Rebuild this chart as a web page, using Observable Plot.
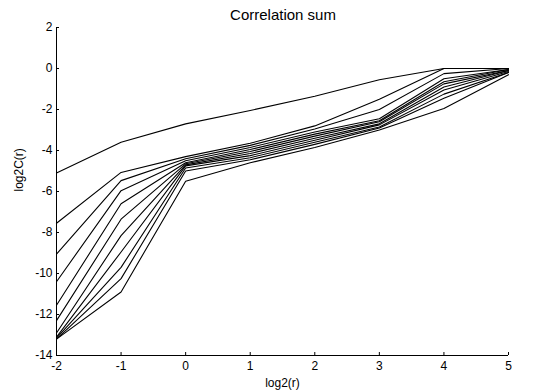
<!DOCTYPE html>
<html>
<head>
<meta charset="utf-8">
<script src="https://cdn.jsdelivr.net/npm/d3@7"></script>
<script src="https://cdn.jsdelivr.net/npm/@observablehq/plot@0.6"></script>
<style>
  body { margin: 0; background: #fff; font-family: "Liberation Sans", Arial, sans-serif; }
  #title { height: 20px; line-height: 30px; text-align: center; font-size: 15px; padding-left: 20px; color: #000; }
</style>
</head>
<body>
<div id="title">Correlation sum</div>
<div id="chart"></div>
<script>
const logR = [-2, -1, 0, 1, 2, 3, 4, 5];
const xTicks = [-2, -1, 0, 1, 2, 3, 4, 5];
const yTicks = [2, 0, -2, -4, -6, -8, -10, -12, -14];

const s1  = [-5.1,  -3.6,  -2.7,  -2.05, -1.35, -0.55,  0.0,  0.0];
const s2  = [-7.55, -5.07, -4.3,  -3.65, -2.8,  -1.5,   0.0,  0.0];
const s3  = [-9.05, -5.47, -4.4,  -3.75, -2.95, -2.0,  -0.25, 0.0];
const s4  = [-10.4, -5.96, -4.5,  -3.85, -3.1,  -2.45, -0.5, -0.05];
const s5  = [-11.55,-6.6,  -4.6,  -3.95, -3.2,  -2.55, -0.65,-0.05];
const s6  = [-12.3, -7.35, -4.65, -4.05, -3.3,  -2.6,  -0.75,-0.1];
const s7  = [-12.9, -8.15, -4.7,  -4.15, -3.4,  -2.7,  -0.9, -0.1];
const s8  = [-13.1, -8.95, -4.75, -4.25, -3.5,  -2.75, -1.05,-0.15];
const s9  = [-13.15,-9.7,  -4.85, -4.35, -3.6,  -2.85, -1.25,-0.2];
const s10 = [-13.2, -10.25,-5.0,  -4.45, -3.7,  -2.9,  -1.45,-0.2];
const s11 = [-13.2, -10.9, -5.5,  -4.6,  -3.85, -3.0,  -1.95,-0.3];

const series = [s1, s2, s3, s4, s5, s6, s7, s8, s9, s10, s11];
const rows = series.flatMap((s, i) => s.map((v, j) => ({k: i, x: logR[j], y: v})));

const plot = Plot.plot({
  width: 546,
  height: 372,
  marginTop: 7,
  marginBottom: 37,
  marginLeft: 56,
  marginRight: 38,
  style: {fontFamily: "Liberation Sans, Arial, sans-serif", fontSize: "12px", color: "#000", background: "#fff"},
  x: {domain: [-2, 5], ticks: xTicks},
  y: {domain: [-14, 2], ticks: yTicks},
  marks: [
    Plot.axisX({ticks: xTicks, tickSize: -3, tickPadding: 9, tickFormat: d => d, label: null}),
    Plot.axisY({ticks: yTicks, tickSize: -3, tickPadding: 7, tickFormat: d => d, label: null}),
    Plot.ruleX([-2], {stroke: "#000"}),
    Plot.ruleY([-14], {stroke: "#000"}),
    Plot.line(rows, {x: "x", y: "y", z: "k", stroke: "#000", strokeWidth: 1.1}),
    Plot.text(["log2(r)"], {frameAnchor: "bottom", dy: 31, fontSize: 12}),
    Plot.text(["log2C(r)"], {frameAnchor: "left", dx: -37, rotate: -90, fontSize: 12})
  ]
});
document.getElementById("chart").appendChild(plot);
</script>
</body>
</html>
